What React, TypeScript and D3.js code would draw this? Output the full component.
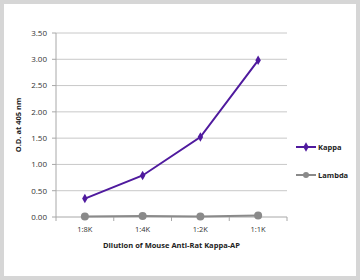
import * as d3 from 'd3';

const categories = ['1:8K', '1:4K', '1:2K', '1:1K'];
const kappa = [0.35, 0.79, 1.52, 2.98];
const lambda = [0.01, 0.02, 0.01, 0.03];
const yTicks = [0, 0.5, 1, 1.5, 2, 2.5, 3, 3.5];

const W = 360;
const H = 280;
const margin = { left: 56, right: 73, top: 33, bottom: 63 };
const FONT = '"Open Sans", "Noto Sans", sans-serif';

const series = [
  { name: 'Kappa', values: kappa, color: '#4f1a9e', shape: 'diamond' },
  { name: 'Lambda', values: lambda, color: '#8a8a8a', shape: 'circle' },
];

export default function App() {
  const x = d3.scaleBand().domain(categories).range([margin.left, W - margin.right]);
  const y = d3.scaleLinear().domain([0, 3.5]).range([H - margin.bottom, margin.top]);
  const line = d3
    .line<number>()
    .x((_, i) => (x(categories[i]) ?? 0) + x.bandwidth() / 2)
    .y((d) => y(d));
  const diamond = d3.symbol(d3.symbolDiamond, 26)() ?? '';
  const x0 = margin.left;
  const x1 = W - margin.right;
  const bounds = [...categories.map((c) => x(c) ?? 0), x1];

  return (
    <svg width={W} height={H} style={{ position: 'absolute', left: 0, top: 0 }} fontFamily={FONT}>
      <rect x={0} y={0} width={W} height={H} fill="#fff" />
      <rect x={2} y={2} width={W - 4} height={H - 4} fill="none" stroke="#d6d6d6" strokeWidth={4} />

      {yTicks.map((t) => (
        <g key={t}>
          {t > 0 && <line x1={x0} x2={x1} y1={y(t)} y2={y(t)} stroke="#c8c8c8" strokeWidth={1} />}
          <line x1={x0 - 4} x2={x0} y1={y(t)} y2={y(t)} stroke="#a8a8a8" />
          <text x={x0 - 9} y={y(t)} dy="0.35em" textAnchor="end" fontSize={8} fill="#333">
            {t.toFixed(2)}
          </text>
        </g>
      ))}
      <line x1={x0} x2={x0} y1={y(3.5)} y2={y(0)} stroke="#a8a8a8" />
      <line x1={x0} x2={x1} y1={y(0)} y2={y(0)} stroke="#a8a8a8" />
      {bounds.map((b, i) => (
        <line key={i} x1={b} x2={b} y1={y(0)} y2={y(0) + 4} stroke="#a8a8a8" />
      ))}
      {categories.map((c) => (
        <text
          key={c}
          x={(x(c) ?? 0) + x.bandwidth() / 2}
          y={y(0) + 15}
          textAnchor="middle"
          fontSize={7.5}
          fill="#333"
        >
          {c}
        </text>
      ))}

      {series.map((s) => (
        <g key={s.name}>
          <path d={line(s.values) ?? ''} fill="none" stroke={s.color} strokeWidth={2} />
          {s.values.map((v, i) => {
            const cx = (x(categories[i]) ?? 0) + x.bandwidth() / 2;
            return s.shape === 'diamond' ? (
              <path key={i} d={diamond} transform={`translate(${cx},${y(v)})`} fill={s.color} />
            ) : (
              <circle key={i} cx={cx} cy={y(v)} r={4} fill={s.color} />
            );
          })}
        </g>
      ))}

      <text
        transform={`translate(21,${(y(0) + y(3.5)) / 2}) rotate(-90)`}
        textAnchor="middle"
        fontSize={7.5}
        fontWeight="bold"
        fill="#222"
      >
        O.D. at 405 nm
      </text>
      <text x={(x0 + x1) / 2} y={y(0) + 31} textAnchor="middle" fontSize={7.5} fontWeight="bold" fill="#222">
        Dilution of Mouse Anti-Rat Kappa-AP
      </text>

      {series.map((s, i) => {
        const ly = 147 + i * 28;
        return (
          <g key={s.name}>
            <line x1={296} x2={316} y1={ly} y2={ly} stroke={s.color} strokeWidth={2} />
            {s.shape === 'diamond' ? (
              <path d={diamond} transform={`translate(306,${ly})`} fill={s.color} />
            ) : (
              <circle cx={306} cy={ly} r={3} fill={s.color} />
            )}
            <text x={318} y={ly} dy="0.35em" fontSize={7.5} fontWeight="bold" fill="#222">
              {s.name}
            </text>
          </g>
        );
      })}
    </svg>
  );
}
